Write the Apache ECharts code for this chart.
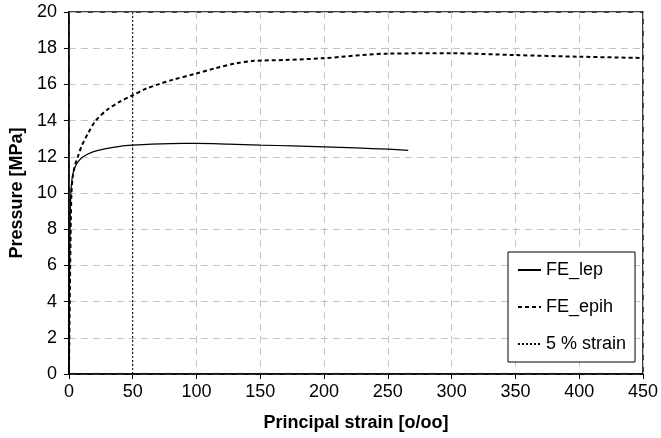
<!DOCTYPE html>
<html>
<head>
<meta charset="utf-8">
<script src="https://cdn.jsdelivr.net/npm/echarts@6/dist/echarts.min.js"></script>
<style>html,body{margin:0;padding:0;background:#fff}#c{width:661px;height:438px}</style>
</head>
<body>
<div id="c"></div>
<script>
const xTicks = [0, 50, 100, 150, 200, 250, 300, 350, 400, 450];
const yTicks = [0, 2, 4, 6, 8, 10, 12, 14, 16, 18, 20];

const lepStrain   = [0, 0.3, 0.6, 1, 1.5, 2.5, 4, 6, 8, 10, 15, 20, 30, 40, 50, 65, 80, 100, 125, 150, 175, 200, 225, 250, 266];
const lepPressure = [0, 3, 6, 8.5, 10, 10.8, 11.3, 11.6, 11.8, 11.95, 12.15, 12.3, 12.47, 12.58, 12.64, 12.7, 12.73, 12.74, 12.7, 12.65, 12.6, 12.55, 12.49, 12.42, 12.36];

const epihStrain   = [0, 0.5, 1, 1.5, 2, 3, 5, 7, 10, 15, 21, 30, 40, 50, 60, 70, 81, 100, 115, 130, 145, 170, 200, 250, 300, 350, 400, 450];
const epihPressure = [0, 3, 6, 8.5, 10, 10.9, 11.6, 12, 12.6, 13.3, 14, 14.6, 15.05, 15.4, 15.75, 16.0, 16.25, 16.6, 16.9, 17.15, 17.3, 17.35, 17.45, 17.7, 17.72, 17.62, 17.53, 17.46];

const strainMarkX = [50, 50];
const strainMarkY = [0, 20];

const zip = (a, b) => a.map((v, i) => [v, b[i]]);

const FONT = 'Liberation Sans, Arial, sans-serif';
const chart = echarts.init(document.getElementById('c'), null, {renderer: 'canvas'});
chart.setOption({
  animation: false,
  backgroundColor: '#fff',
  grid: {left: 66, right: 17, top: 12, bottom: 64, show: true, borderColor: '#000', borderWidth: 1.5, containLabel: false},
  xAxis: {
    type: 'value', min: 0, max: 450, interval: 50,
    name: 'Principal strain [o/oo]', nameLocation: 'middle', nameGap: 40,
    nameTextStyle: {fontFamily: FONT, fontSize: 18, fontWeight: 'bold', color: '#000'},
    axisLine: {show: true, lineStyle: {color: '#000', width: 1.5}},
    axisTick: {show: true, length: 5, inside: false, lineStyle: {color: '#000', width: 1}},
    axisLabel: {fontFamily: FONT, fontSize: 18, color: '#000', margin: 9,
      formatter: v => xTicks.includes(v) ? String(v) : ''},
    splitLine: {show: true, lineStyle: {color: '#c4c4c4', type: [7, 5], width: 1}}
  },
  yAxis: {
    type: 'value', min: 0, max: 20, interval: 2,
    name: 'Pressure [MPa]', nameLocation: 'middle', nameGap: 33,
    nameTextStyle: {fontFamily: FONT, fontSize: 18, fontWeight: 'bold', color: '#000'},
    axisLine: {show: true, lineStyle: {color: '#000', width: 1.5}},
    axisTick: {show: true, length: 5, inside: false, lineStyle: {color: '#000', width: 1}},
    axisLabel: {fontFamily: FONT, fontSize: 18, color: '#000', margin: 12,
      formatter: v => yTicks.includes(v) ? String(v) : ''},
    splitLine: {show: true, lineStyle: {color: '#c4c4c4', type: [7, 5], width: 1}}
  },
  legend: {
    left: 508, top: 252, orient: 'vertical',
    padding: [9, 9, 9, 9], itemGap: 19, itemWidth: 23, itemHeight: 18,
    backgroundColor: '#fff', borderColor: '#000', borderWidth: 1,
    itemStyle: {color: 'rgba(0,0,0,0)', borderWidth: 0, opacity: 0},
    textStyle: {fontFamily: FONT, fontSize: 18, color: '#000'},
    data: ['FE_lep', 'FE_epih', '5 % strain']
  },
  series: [
    {name: 'FE_lep', type: 'line', data: zip(lepStrain, lepPressure), showSymbol: false, symbol: 'none', smooth: 0.3,
      lineStyle: {color: '#000', width: 1.2, type: 'solid'}, itemStyle: {color: '#000'}},
    {name: 'FE_epih', type: 'line', data: zip(epihStrain, epihPressure), showSymbol: false, symbol: 'none', smooth: 0.3,
      lineStyle: {color: '#000', width: 2, type: [4, 3]}, itemStyle: {color: '#000'}},
    {name: '5 % strain', type: 'line', data: zip(strainMarkX, strainMarkY), showSymbol: false, symbol: 'none',
      lineStyle: {color: '#000', width: 1, type: [2, 2]}, itemStyle: {color: '#000'}}
  ]
});
</script>
</body>
</html>
